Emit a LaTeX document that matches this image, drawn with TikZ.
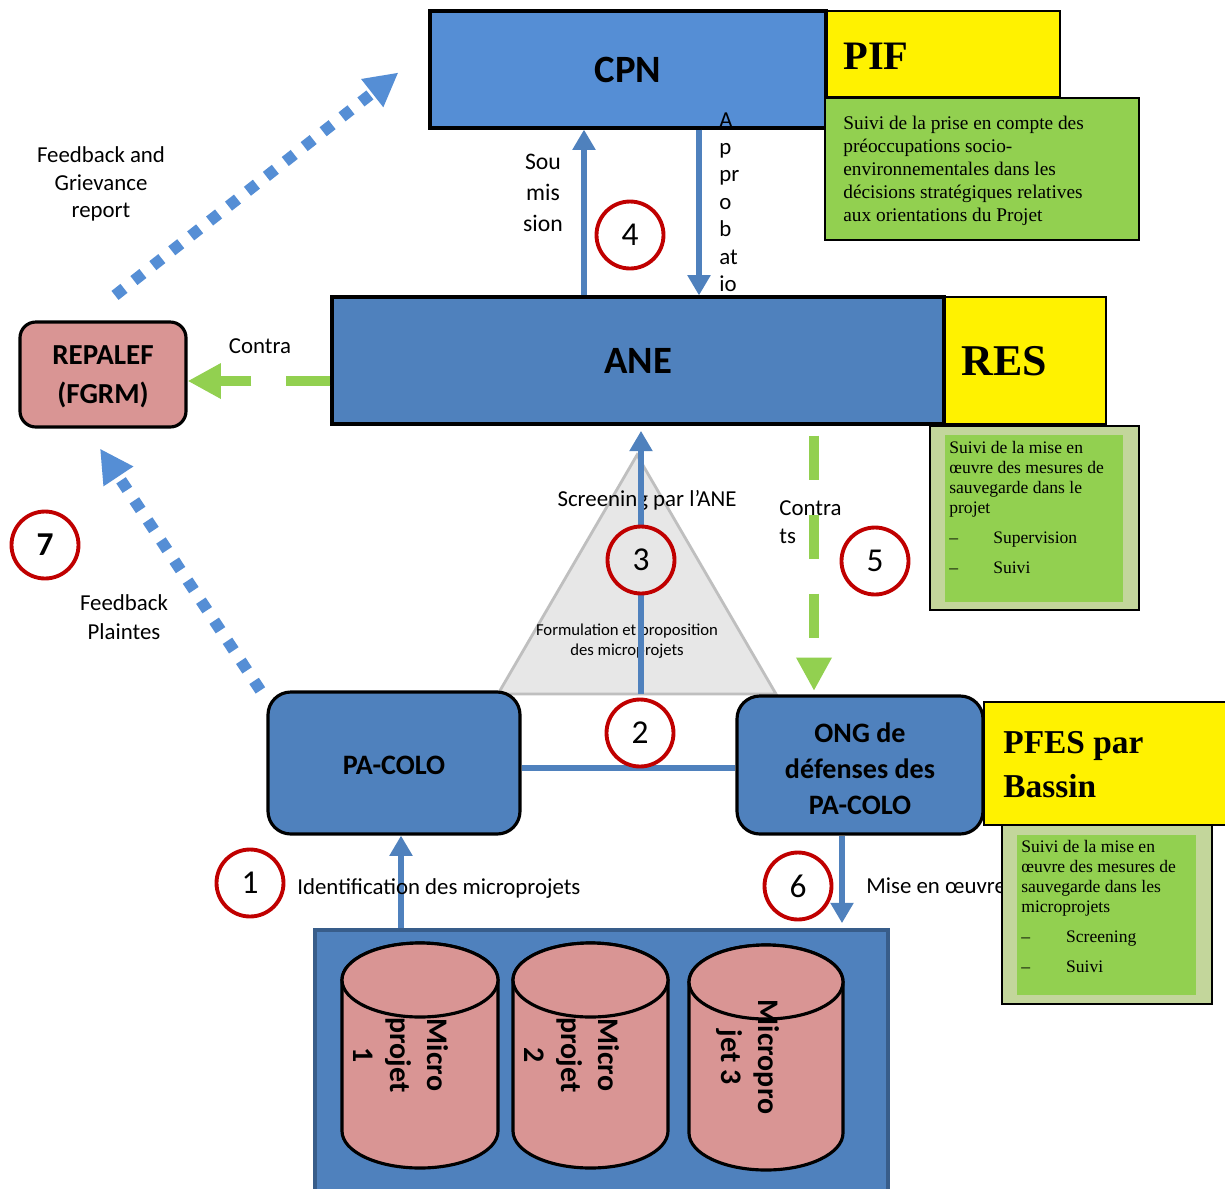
\documentclass[tikz,border=0pt]{standalone}
\usepackage{fontspec}
\setmainfont{Carlito}
\newfontfamily\tms{Liberation Serif}
\usetikzlibrary{arrows.meta,fit}
\definecolor{cpnblue}{RGB}{85,142,213}
\definecolor{boxblue}{RGB}{79,129,189}
\definecolor{dkblue}{RGB}{56,93,138}
\definecolor{grn}{RGB}{146,208,80}
\definecolor{olive}{RGB}{195,214,155}
\definecolor{pinkr}{RGB}{217,149,148}
\definecolor{tri}{RGB}{231,231,231}
\definecolor{trib}{RGB}{191,191,191}
\definecolor{redc}{RGB}{192,0,0}
\begin{document}
\begin{tikzpicture}[x=0.02cm,y=-0.02cm,
 blk/.style={draw=black,line width=1.8pt,inner sep=0pt},
 title/.style={font=\bfseries\fontsize{22}{26}\selectfont,inner sep=0pt},
 rbox/.style={blk,fill=boxblue,rounded corners=13pt},
 rtext/.style={align=center,inner sep=0pt,font=\bfseries\fontsize{16}{20.5}\selectfont},
 ybox/.style={draw=black,line width=0.8pt,fill=yellow,inner sep=0pt},
 gbox/.style={draw=black,line width=0.8pt,fill=grn,inner sep=0pt},
 obox/.style={draw=black,line width=0.8pt,fill=olive,inner sep=0pt},
 ytext/.style={font=\tms\bfseries\fontsize{23}{26}\selectfont,inner sep=0pt},
 gtext/.style={align=left,inner sep=0pt,anchor=north west},
 lbl/.style={font=\fontsize{13}{16}\selectfont,align=center,inner sep=0pt},
 num/.style={circle,draw=redc,line width=2.2pt,fill=white,minimum size=1.34cm,inner sep=0pt,font=\fontsize{19}{22}\selectfont},
 blarrow/.style={draw=boxblue,line width=3.2pt,-{Triangle[width=12.5pt,length=11.5pt]}},
 grarrow/.style={draw=grn,line width=6.2pt,dash pattern=on 25pt off 20pt,-{Triangle[width=19pt,length=19pt]}},
 dotarrow/.style={draw=cpnblue,line width=6.5pt,dash pattern=on 6.5pt off 7.2pt,-{Triangle[width=19pt,length=19pt]}},
 cyl/.style={fill=pinkr,draw=black,line width=1.8pt},
 cyltext/.style={rotate=-90,align=center,inner sep=0pt,font=\bfseries\fontsize{17}{21}\selectfont}
]
\fill[white] (0,0) rectangle (1225,1188);
\useasboundingbox (0,0) rectangle (1225,1188);

% top boxes
\node[ybox,fit={(825,11)(1060,97)}] (PIFy) {};
\node[blk,fill=cpnblue,fit={(430,11)(826,128)}] (CPN) {};
\node[title] (CPNt) at (CPN.center) {CPN};
\node[ytext,anchor=base west] (PIFt) at (843,69) {PIF};
\node[gbox,fit={(825,98)(1139,240)}] (PIFg) {};
\node[gtext,font=\tms\fontsize{11}{13}\selectfont] (PIFtx) at (843,116) {Suivi de la prise en compte des\\préoccupations socio-\\environnementales dans les\\décisions stratégiques relatives\\aux orientations du Projet};

% ANE + RES
\node[ybox,fit={(944,297)(1106,424)}] (RESy) {};
\node[blk,fill=boxblue,fit={(332,297)(944,424)}] (ANE) {};
\node[title] (ANEt) at (ANE.center) {ANE};
\node[ytext,font=\tms\bfseries\fontsize{25}{28}\selectfont,anchor=base west] (RESt) at (961,375) {RES};
\node[obox,fit={(930,426)(1139,610)}] (RESg) {};
\fill[grn] (945,435) rectangle (1123,602);
\node[gtext,font=\tms\fontsize{10}{11.3}\selectfont] (REStx) at (949,441) {Suivi de la mise en\\œuvre des mesures de\\sauvegarde dans le\\projet\\[6pt]\makebox[25pt][l]{–}Supervision\\[6pt]\makebox[25pt][l]{–}Suivi};

% REPALEF
\node[blk,fill=pinkr,rounded corners=9pt,fit={(20,322)(186,427)}] (REP) {};
\node[rtext,font=\bfseries\fontsize{16.5}{22}\selectfont] (REPt) at ([shift={(0,2)}]REP.center) {REPALEF\\(FGRM)};

% triangle
\filldraw[fill=tri,draw=trib,line width=1.6pt] (637,455) -- (776,694) -- (498,694) -- cycle;
\coordinate (tribase) at (641,694);
\node[lbl] (scr) at (647,500) {Screening par l’ANE};
\node[lbl,font=\fontsize{9.5}{11}\selectfont] (form) at (627,641) {Formulation et proposition\\des microprojets};

% PA-COLO, ONG, PFES
\node[rbox,fit={(268,692)(520,834)}] (PA) {};
\node[rtext] (PAt) at ([shift={(0,2)}]PA.center) {PA-COLO};
\node[rbox,fit={(737,696)(983,834)}] (ONG) {};
\node[rtext] (ONGt) at ([shift={(0,4)}]ONG.center) {ONG de\\défenses des\\PA-COLO};
\node[ybox,fit={(984,702)(1226,825)}] (PFy) {};
\node[ytext,font=\tms\bfseries\fontsize{19}{25}\selectfont,align=left,anchor=north west] (PFt) at (1003,731) {PFES par\\Bassin};

% base container with cylinders
\node[draw=dkblue,line width=1.8pt,fill=boxblue,inner sep=0pt,fit={(315,930)(888,1192)}] (base) {};
\filldraw[cyl] (342,980) -- (342,1131) arc[start angle=180,end angle=0,x radius=78,y radius=37] -- (498,980) arc[start angle=0,end angle=-180,x radius=78,y radius=37] -- cycle;
\filldraw[cyl] (420,980) ellipse[x radius=78,y radius=37];
\filldraw[cyl] (513,980) -- (513,1131) arc[start angle=180,end angle=0,x radius=77.5,y radius=37] -- (668,980) arc[start angle=0,end angle=-180,x radius=77.5,y radius=37] -- cycle;
\filldraw[cyl] (590.5,980) ellipse[x radius=77.5,y radius=37];
\filldraw[cyl] (689,982) -- (689,1133) arc[start angle=180,end angle=0,x radius=77,y radius=37] -- (843,982) arc[start angle=0,end angle=-180,x radius=77,y radius=37] -- cycle;
\filldraw[cyl] (766,982) ellipse[x radius=77,y radius=37];
\node[cyltext] (m1) at (401,1055) {Micro\\projet\\1};
\node[cyltext] (m2) at (572,1055) {Micro\\projet\\2};
\node[cyltext] (m3) at (748,1057) {Micropro\\jet 3};

% connectors
\draw[dotarrow] ([shift={(12,-25)}]REP.north) -- ([shift={(-30,3)}]CPN.west);
\draw[dotarrow] ([shift={(-6,0)}]PA.north west) -- ([shift={(-3,20)}]REP.south);
\draw[grarrow] (ANE.west |- 0,381) -- (REP.east |- 0,381);
\draw[grarrow,shorten <=5.7pt,shorten >=2pt] (ANE.south -| 814,0) -- (ONG.north -| 814,0);
\draw[blarrow] (ANE.north -| 584,0) -- (CPN.south -| 584,0);
\draw[blarrow] (CPN.south -| 699,0) -- (ANE.north -| 699,0);
\draw[blarrow,shorten >=3pt] (tribase) -- (tribase |- ANE.south);
\draw[boxblue,line width=3.4pt] (PA.east |- 0,768) -- (ONG.west |- 0,768);
\draw[blarrow] (base.north -| 401,0) -- (PA.south -| 401,0);
\draw[blarrow,shorten >=3pt] (ONG.south -| 842,0) -- (base.north -| 842,0);

% labels
\node[lbl,font=\fontsize{13}{15.8}\selectfont] (fbg) at (101,184) {Feedback and\\Grievance\\report};
\node[lbl,font=\fontsize{13}{16.4}\selectfont] (fbp) at (124,617) {Feedback\\Plaintes};
\node[lbl] (contra1) at (260,346) {Contra};
\node[lbl,font=\fontsize{13.5}{17.5}\selectfont] (soum) at (543,193) {Sou\\mis\\sion};
\node[lbl,align=left,anchor=north west,font=\fontsize{13}{15.6}\selectfont] (appro) at (719,112) {A\\p\\pr\\o\\b\\at\\io};
\node[lbl,align=left,anchor=north west] (contra2) at (779,500) {Contra\\ts};
\node[lbl,anchor=west] (ident) at (297,889) {Identification des microprojets};
\node[lbl,anchor=west] (mise) at (866,886) {Mise en œuvre};

% PFES green box on top
\node[obox,fit={(1002,825)(1212,1004)}] (PFg) {};
\fill[grn] (1017,835) rectangle (1196,995);
\node[gtext,font=\tms\fontsize{10}{11.3}\selectfont] (PFtx) at (1021,840) {Suivi de la mise en\\œuvre des mesures de\\sauvegarde dans les\\microprojets\\[6pt]\makebox[25.5pt][l]{–}Screening\\[6pt]\makebox[25.5pt][l]{–}Suivi};

% numbered circles
\node[num] (c4) at (630,235) {4};
\node[num,fill=tri] (c3) at (641,560) {3};
\node[num] (c2) at (640,733) {2};
\node[num] (c5) at (875,561) {5};
\node[num] (c1) at (250,883) {1};
\node[num] (c6) at (798,886) {6};
\node[num,font=\bfseries\fontsize{19}{22}\selectfont] (c7) at (45,545) {7};
\end{tikzpicture}
\end{document}
